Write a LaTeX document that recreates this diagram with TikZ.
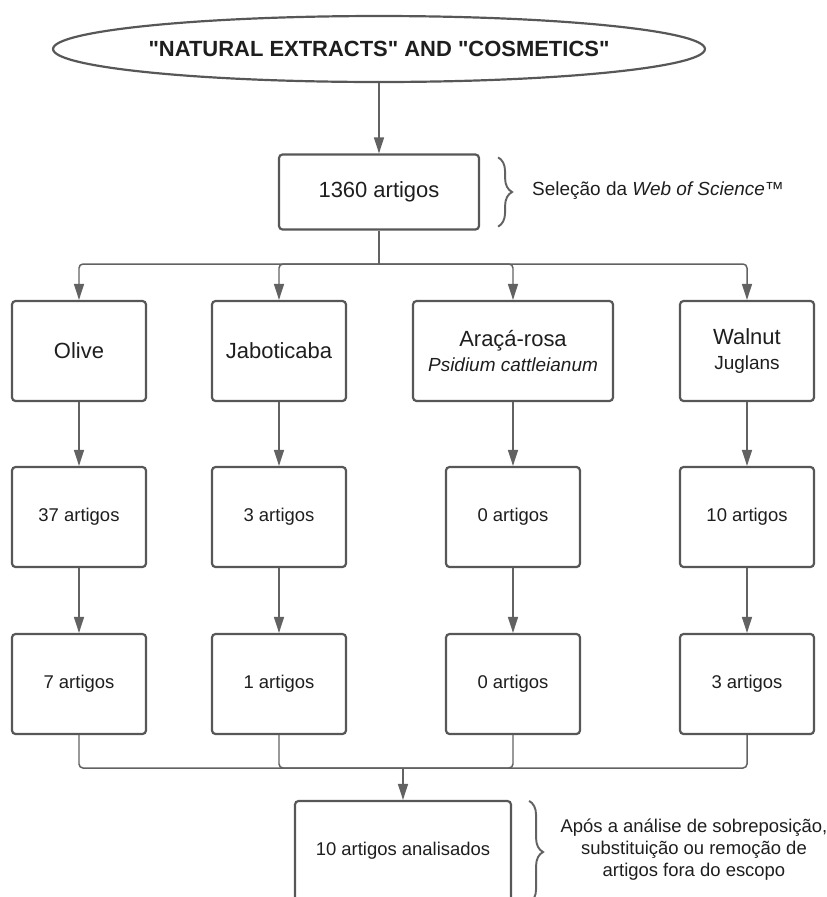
\documentclass[tikz,border=0pt]{standalone}
\usepackage{fontspec}
\setmainfont{Liberation Sans}[Ligatures=TeXOff]
\usetikzlibrary{arrows.meta, shapes.geometric, decorations.pathreplacing, calc}

\definecolor{boxgray}{HTML}{575757}
\definecolor{linegray}{HTML}{626262}
\definecolor{textblack}{HTML}{1E1E1E}

\newcommand{\szlarge}{\fontsize{12.5pt}{14.2pt}\selectfont}
\newcommand{\szmid}{\fontsize{10.8pt}{14.2pt}\selectfont}
\newcommand{\szsmall}{\fontsize{10.5pt}{12.5pt}\selectfont}

\begin{document}
\begin{tikzpicture}
	[%
	x=0.02cm, y=-0.02cm, text=textblack,%
	query/.style ={ellipse,		draw=boxgray,	line width=1.25pt,	inner sep=0pt,	minimum width=10.7cm,	minimum height=1.32cm,	font=\bfseries\szlarge},%
	box/.style   ={rectangle,	draw=boxgray,	line width=1.25pt,	inner sep=0pt,	rounded corners=0.07cm,	align=center,	minimum height=2cm},%
	count/.style ={box,	minimum width=2.68cm,	font=\szsmall},%
	line/.style  ={draw=linegray,	line width=0.85pt,	rounded corners=0.08cm},%
	arrow/.style ={line,	-{Triangle[length=0.32cm,width=0.2cm]}},%
	brace/.style ={draw=linegray,	line width=1.1pt,	decorate,	decoration={brace, amplitude=0.28cm}},%
	]

	\useasboundingbox (0,0) rectangle (827,897);
	\clip (0,0) rectangle (827,897);

	% nodes
	\node (query) at (379,49) [query] {"NATURAL EXTRACTS" AND "COSMETICS"};
	\node (sel) at (379,192) [box, minimum width=4cm, minimum height=1.5cm, font=\szlarge] {1360 artigos};

	\foreach \n/\x/\w/\txt in {olive/79/2.68/{Olive}, jabo/279/2.68/{Jaboticaba}, %
												araca/513/4/{Araçá-rosa\\\szmid\itshape Psidium cattleianum}, %
												walnut/747/2.68/{Walnut\\\szmid Juglans}%
												}
			\node (\n1) at (\x,351) [box, minimum width=\w cm, font=\szlarge] {\txt};

	\foreach \n/\x/\a/\b in {olive/79/37/7, jabo/279/3/1, araca/513/0/0, walnut/747/10/3} {
			\node (\n2) at (\x,517) [count] {\a\ artigos};
			\node (\n3) at (\x,684) [count] {\b\ artigos};
	}

	\node (final) at (403,851) [box, minimum width=4.32cm, font=\szsmall] {10 artigos analisados};

	\coordinate (split) at (379,264);
	\coordinate (join) at (403,768);

	% interconnections
	\draw [arrow] (query) -- (sel);
	\draw [line] (sel) -- (split);

	\foreach \n in {olive, jabo, araca, walnut} {
			\draw [arrow] (split) -| (\n1);
			\draw [arrow] (\n1) -- (\n2);
			\draw [arrow] (\n2) -- (\n3);
			\draw [line] (\n3) |- (join);
	}
	\draw [arrow] (join) -- (final);

	% notes
	\draw [brace] ($(sel.north east)+(18,4)$) -- ($(sel.south east)+(18,-4)$);
	\node (wos) at (526,191) [anchor=west, font=\szmid] {Seleção da \textit{Web of Science}™};

	\draw [brace] ($(final.north east)+(17,1)$) -- ($(final.south east)+(17,1)$);
	\node (note) at (694,850) [align=center, font=\szsmall] {Após a análise de sobreposição,\\substituição ou remoção de\\artigos fora do escopo};

\end{tikzpicture}
\end{document}
